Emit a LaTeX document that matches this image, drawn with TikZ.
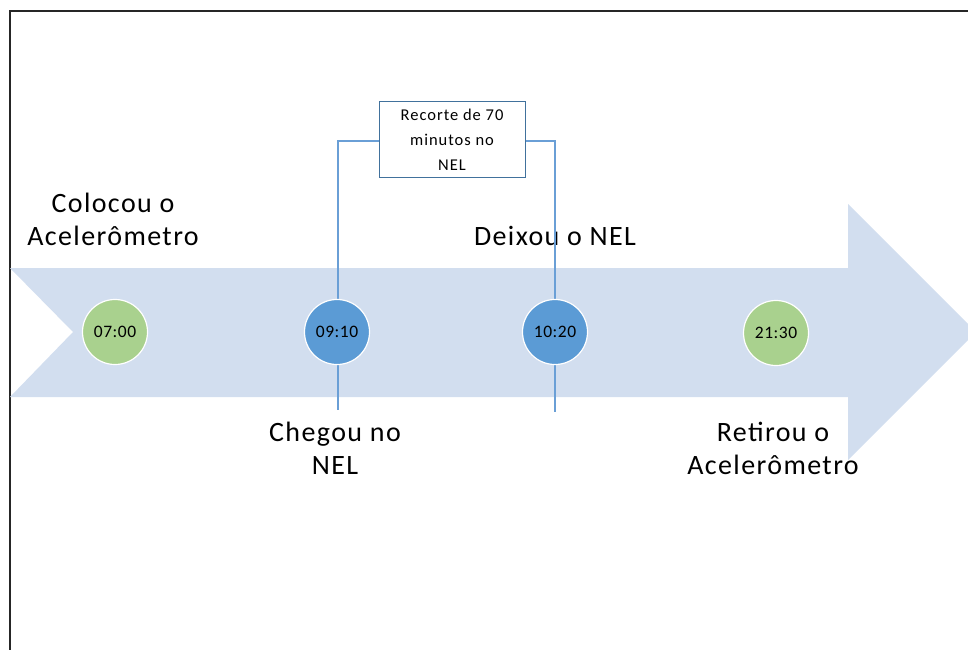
\documentclass[tikz,border=0pt]{standalone}
\usepackage{fontspec}
\setmainfont{Carlito}
\definecolor{arrowfill}{HTML}{D2DEEF}
\definecolor{greenc}{HTML}{A9D18E}
\definecolor{bluec}{HTML}{5B9BD5}
\definecolor{linec}{HTML}{6A9FD6}
\definecolor{boxc}{HTML}{41719C}
\begin{document}
\begin{tikzpicture}[x=1pt,y=-1pt,
  dot/.style={circle,draw=white,line width=1.2pt,minimum size=65pt,inner sep=0pt,font=\fontsize{17.5}{20}\selectfont\addfontfeature{LetterSpace=3}},
  lbl/.style={align=center,font=\fontsize{28}{33}\selectfont\addfontfeature{LetterSpace=5},inner sep=0pt},
  conn/.style={draw=linec,line width=1.3pt}]
\useasboundingbox (0,0) rectangle (968,650);
% frame
\draw[line width=1.3pt,black!85] (968,11) -- (10,11) -- (10,650);
% big arrow
\fill[arrowfill] (10,268) -- (848,268) -- (848,204) -- (976,332) -- (848,460) -- (848,397) -- (10,397) -- (73,332) -- cycle;
% labels
\node[lbl] (la) at (113,219) {Colocou o\\Acelerômetro};
\node[lbl] (lc) at (555,236) {Deixou o NEL};
\node[lbl] (lb) at (335,448) {Chegou no\\NEL};
\node[lbl] (ld) at (773,448) {Retirou o\\Acelerômetro};
% box
\node[draw=boxc,line width=1pt,fill=white,minimum width=146pt,minimum height=75pt,align=center,inner sep=2pt,
  font=\fontsize{16.5}{25}\selectfont\addfontfeature{LetterSpace=6}] (box) at (452,139.5) {Recorte de 70\\minutos no\\NEL};
\coordinate (cl) at (338,141);
\coordinate (cr) at (555,141);
\coordinate (bl) at (338,410);
\coordinate (br) at (555,412);
\draw[conn] (box.west |- cl) -- (cl) -- (bl);
\draw[conn] (box.east |- cr) -- (cr) -- (br);
% circles
\node[dot,fill=greenc] (a) at (115,332) {07:00};
\node[dot,fill=bluec] (b) at (337,332) {09:10};
\node[dot,fill=bluec] (c) at (555,332) {10:20};
\node[dot,fill=greenc] (d) at (776,333) {21:30};
\end{tikzpicture}
\end{document}
